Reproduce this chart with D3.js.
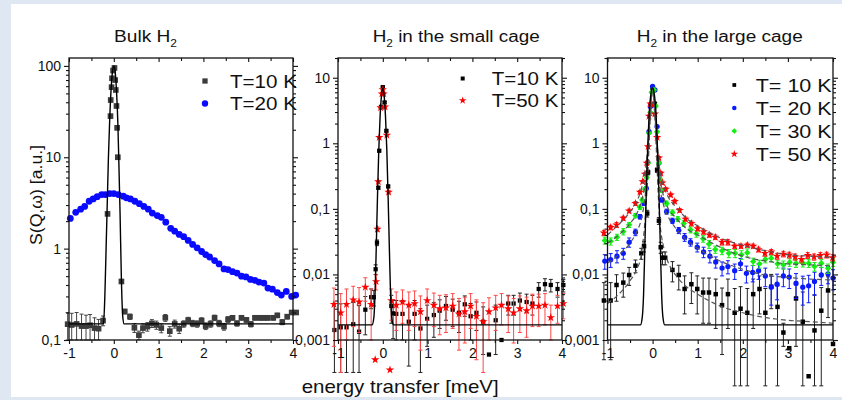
<!DOCTYPE html>
<html>
<head>
<meta charset="utf-8">
<script src="https://cdn.jsdelivr.net/npm/d3@7"></script>
<style>body{margin:0;background:#dfe8f2}</style>
</head>
<body>
<script>
// energy transfer axis (meV)
const energyTicks = [-1, 0, 1, 2, 3, 4];
const energyMinor = [-0.5, 0.5, 1.5, 2.5, 3.5];

// y ticks
const bulkTicks = [0.1, 1, 10, 100];
const bulkTickLabels = ["0,1", "1", "10", "100"];
const cageTicks = [0.001, 0.01, 0.1, 1, 10];
const cageTickLabels = ["0,001", "0,01", "0,1", "1", "10"];

// ---- Bulk H2 : [energy, S, error] ----
const bulk10K = [[-1.03,0.149,0.05],[-0.94,0.146,0.05],[-0.83,0.15,0.05],[-0.72,0.142,0.05],[-0.62,0.142,0.045],
  [-0.53,0.145,0.045],[-0.43,0.135,0.04],[-0.34,0.133,0.035],[-0.24,0.163,0.02],[-0.14,2.4,0.1],
  [-0.074,28.2,1],[-0.069,42.3,1.5],[-0.05,58.5,2],[-0.04,73.2,2],[-0.016,89,3],[0.015,95,3],[0.03,70,2],
  [0.045,54.5,2],[0.06,36.4,1.5],[0.074,21,1],[0.09,10,0.5],[0.17,0.437,0.02],[0.245,0.205,0.012],
  [0.36,0.18,0.012],[0.46,0.136,0.015],[0.56,0.113,0.012],[0.65,0.135,0.015],[0.75,0.14,0.015],
  [0.85,0.152,0.015],[0.95,0.146,0.015],[1.06,0.135,0.015],[1.15,0.175,0.015],[1.25,0.125,0.015],
  [1.36,0.15,0.015],[1.46,0.133,0.015],[1.56,0.15,0.012],[1.66,0.165,0.012],[1.76,0.152,0.012],
  [1.86,0.15,0.012],[1.96,0.163,0.012],[2.05,0.142,0.012],[2.16,0.15,0.012],[2.25,0.175,0.012],
  [2.35,0.152,0.012],[2.46,0.14,0.012],[2.55,0.168,0.012],[2.65,0.175,0.01],[2.75,0.152,0.01],
  [2.85,0.175,0.01],[2.96,0.166,0.01],[3.06,0.149,0.01],[3.15,0.175,0.01],[3.26,0.175,0.01],
  [3.35,0.175,0.01],[3.44,0.175,0.01],[3.56,0.175,0.01],[3.65,0.186,0.01],[3.76,0.157,0.01],
  [3.87,0.18,0.01],[3.97,0.2,0.01],[4.07,0.2,0.01]];
const bulk20K = [[-0.97,2.14,0],[-0.85,2.5,0],[-0.74,2.7,0],[-0.65,2.9,0],[-0.55,3.3,0],[-0.46,3.5,0],
  [-0.37,3.7,0],[-0.27,3.9,0],[-0.19,3.9,0],[-0.09,4.0,0],[0,4.0,0],[0.1,3.9,0],[0.21,3.75,0],
  [0.28,3.6,0],[0.37,3.5,0],[0.47,3.3,0],[0.57,3.1,0],[0.67,2.9,0],[0.77,2.7,0],[0.86,2.45,0],
  [0.97,2.3,0],[1.06,2.2,0],[1.16,1.95,0],[1.27,1.67,0],[1.36,1.55,0],[1.46,1.43,0],[1.56,1.35,0],
  [1.66,1.23,0],[1.76,1.11,0],[1.86,1.02,0],[1.96,0.93,0],[2.05,0.86,0],[2.14,0.81,0],[2.25,0.74,0],
  [2.35,0.68,0],[2.46,0.6,0],[2.55,0.59,0],[2.65,0.56,0],[2.75,0.54,0],[2.85,0.5,0],[2.95,0.49,0],
  [3.05,0.46,0],[3.15,0.45,0],[3.24,0.43,0],[3.35,0.42,0],[3.44,0.37,0],[3.54,0.36,0],[3.65,0.33,0],
  [3.74,0.31,0],[3.85,0.34,0],[3.97,0.3,0],[4.06,0.31,0]];
const bulkFit = [[-1,0.15],[-0.23,0.15],[-0.2,0.3],[-0.17,1.1],[-0.15,2.6],[-0.12,10],[-0.09,27],[-0.06,56],
  [-0.03,86],[0,100],[0.03,86],[0.06,54],[0.09,24],[0.11,10],[0.14,2.4],[0.17,0.45],[0.2,0.18],[0.23,0.15],[4,0.15]];

// ---- small cage ----
const small10K = [[-1.08,0.00142,0.0022],[-0.94,0.00156,0.002],[-0.81,0.00156,0.002],[-0.66,0.00174,0.002],
  [-0.53,0.00134,0.002],[-0.39,0.0029,0.0017],[-0.26,0.0045,0.0015],[-0.2,0.0045,0.0012],[-0.16,0.012,0.002],
  [-0.13,0.0305,0.003],[-0.1,0.21,0.01],[-0.08,0.77,0.03],[-0.04,3.6,0.1],[0,7.2,0.2],[0.04,4.2,0.15],
  [0.08,1.55,0.05],[0.12,0.22,0.01],[0.19,0.0033,0.0015],[0.23,0.00255,0.0015],[0.3,0.0025,0.0015],
  [0.44,0.0025,0.0015],[0.58,0.0019,0.0015],[0.71,0.0025,0.0015],[0.84,0.0015,0.0015],[0.99,0.0021,0.0013],
  [1.14,0.0024,0.0013],[1.27,0.0028,0.0013],[1.41,0.0033,0.0013],[1.56,0.0029,0.0013],[1.7,0.0026,0.0013],
  [1.83,0.0035,0.0012],[1.96,0.0023,0.0013],[2.09,0.0026,0.0012],[2.24,0.0019,0.0013],[2.37,0.0006,0],
  [2.52,0.002,0.0014],[2.65,0.001,0],[2.8,0.0036,0.0012],[2.92,0.0036,0.0012],[3.06,0.004,0.0012],
  [3.21,0.0038,0.0012],[3.34,0.0036,0.0012],[3.48,0.006,0.0015],[3.62,0.0071,0.0015],[3.75,0.0069,0.0015],
  [3.9,0.006,0.0015],[4.03,0.0069,0.0015]];
const small50K = [[-1.09,0.0035,0.0027],[-0.94,0.0026,0.0025],[-0.81,0.0035,0.0025],[-0.66,0.0041,0.0025],
  [-0.53,0.0038,0.0025],[-0.39,0.0064,0.0025],[-0.26,0.0035,0.0025],[-0.17,0.0005,0],[-0.15,0.0078,0.002],
  [-0.12,0.049,0.004],[-0.1,0.26,0.01],[-0.08,1.23,0.04],[-0.05,3.5,0.1],[-0.02,5.7,0.2],[0,6.6,0.2],
  [0.02,5.7,0.2],[0.05,3.6,0.1],[0.09,1.33,0.05],[0.13,0.18,0.01],[0.16,0.00035,0],[0.19,0.004,0.002],
  [0.3,0.0034,0.002],[0.44,0.0038,0.002],[0.58,0.0034,0.002],[0.71,0.0036,0.002],[0.84,0.0027,0.002],
  [0.99,0.004,0.002],[1.14,0.0034,0.0018],[1.27,0.003,0.0018],[1.41,0.0031,0.0018],[1.56,0.0033,0.0018],
  [1.7,0.0025,0.0018],[1.83,0.0027,0.0018],[1.96,0.0033,0.0018],[2.09,0.0023,0.0018],[2.24,0.0019,0.0018],
  [2.37,0.0027,0.0017],[2.52,0.0031,0.0017],[2.65,0.0034,0.0017],[2.8,0.003,0.0017],[2.92,0.0026,0.0017],
  [3.06,0.003,0.0017],[3.21,0.0028,0.0017],[3.34,0.0033,0.0017],[3.48,0.0033,0.0017],[3.62,0.0034,0.0017],
  [3.75,0.0022,0.0012],[3.9,0.0033,0.0015],[4.03,0.0036,0.0015]];
const smallFit = [[-1,0.0017],[-0.24,0.0017],[-0.2,0.0022],[-0.17,0.006],[-0.15,0.02],[-0.12,0.14],[-0.09,0.78],
  [-0.06,2.6],[-0.03,5.3],[0,7],[0.03,5.3],[0.06,2.6],[0.09,0.78],[0.12,0.14],[0.15,0.02],[0.17,0.006],
  [0.2,0.0022],[0.24,0.0017],[4,0.0017]];

// ---- large cage ----
const large10K = [[-1.08,0.004,0.0035],[-0.93,0.004,0.0035],[-0.8,0.0069,0.003],[-0.65,0.0075,0.003],
  [-0.52,0.0098,0.003],[-0.38,0.0136,0.003],[-0.25,0.021,0.004],[-0.19,0.027,0.005],[-0.12,0.085,0.01],
  [-0.1,0.36,0.03],[-0.05,3.8,0.2],[0,7,0.3],[0.05,4,0.2],[0.1,0.39,0.03],[0.14,0.066,0.008],
  [0.18,0.026,0.005],[0.22,0.018,0.004],[0.28,0.018,0.004],[0.44,0.0117,0.004],[0.58,0.0098,0.004],
  [0.71,0.006,0.0035],[0.86,0.0071,0.0035],[0.99,0.006,0.0035],[1.12,0.0053,0.0035],[1.25,0.0053,0.0035],
  [1.4,0.005,0.0035],[1.54,0.0034,0.0028],[1.67,0.005,0.0035],[1.82,0.0026,0.0035],[1.95,0.003,0.0035],
  [2.1,0.0026,0.0035],[2.23,0.005,0.0035],[2.37,0.006,0.0035],[2.5,0.0026,0.0035],[2.63,0.0065,0.0035],
  [2.77,0.0032,0.0035],[2.9,0.0013,0.0005],[3.03,0.00075,0],[3.18,0.0043,0.0035],[3.33,0.0019,0.0035],
  [3.46,0.00028,0],[3.59,0.0014,0.0035],[3.74,0.0028,0.0035],[3.89,0.0057,0.0035],[4.0,0.00087,0]];
const large20K = [[-1.06,0.016,0.004],[-0.93,0.0168,0.004],[-0.79,0.019,0.004],[-0.65,0.021,0.004],
  [-0.52,0.031,0.005],[-0.38,0.044,0.005],[-0.28,0.076,0.006],[-0.19,0.121,0.008],[-0.14,0.206,0.01],
  [-0.11,0.51,0.02],[-0.08,1.5,0.05],[-0.05,3.65,0.1],[0,7.4,0.2],[0.05,6.5,0.2],[0.1,1.8,0.05],
  [0.14,0.5,0.02],[0.16,0.35,0.015],[0.21,0.137,0.01],[0.31,0.091,0.008],[0.44,0.066,0.006],
  [0.58,0.047,0.005],[0.71,0.037,0.005],[0.84,0.031,0.004],[0.99,0.026,0.004],[1.13,0.022,0.004],
  [1.27,0.019,0.004],[1.4,0.0155,0.003],[1.54,0.0125,0.003],[1.67,0.0132,0.003],[1.82,0.0114,0.003],
  [1.95,0.0145,0.003],[2.08,0.0104,0.003],[2.22,0.0107,0.003],[2.35,0.0114,0.003],[2.5,0.0095,0.003],
  [2.63,0.0064,0.003],[2.76,0.0071,0.003],[2.9,0.0095,0.003],[3.03,0.0091,0.003],[3.18,0.0073,0.003],
  [3.33,0.0064,0.003],[3.46,0.0067,0.003],[3.59,0.0078,0.003],[3.74,0.0098,0.003],[3.89,0.0102,0.003],
  [4.0,0.0088,0.003]];
const large30K = [[-1.06,0.033,0.004],[-0.93,0.032,0.004],[-0.79,0.037,0.004],[-0.65,0.045,0.005],
  [-0.52,0.057,0.005],[-0.38,0.079,0.006],[-0.28,0.106,0.008],[-0.23,0.137,0.01],[-0.17,0.2,0.012],
  [-0.13,0.3,0.015],[-0.1,0.5,0.02],[-0.08,1.43,0.05],[-0.05,2.95,0.1],[-0.02,6.0,0.2],[0.03,6.5,0.2],
  [0.07,3.7,0.1],[0.1,1.5,0.05],[0.14,0.5,0.02],[0.17,0.28,0.015],[0.21,0.19,0.012],[0.31,0.121,0.01],
  [0.44,0.088,0.008],[0.56,0.07,0.006],[0.69,0.06,0.006],[0.84,0.048,0.005],[0.97,0.042,0.005],
  [1.12,0.035,0.004],[1.25,0.029,0.004],[1.39,0.024,0.003],[1.54,0.023,0.003],[1.69,0.021,0.003],
  [1.83,0.021,0.003],[1.97,0.02,0.003],[2.1,0.0215,0.003],[2.23,0.0157,0.002],[2.37,0.0145,0.002],
  [2.5,0.017,0.002],[2.63,0.0177,0.002],[2.77,0.0145,0.002],[2.9,0.014,0.002],[3.04,0.0153,0.002],
  [3.18,0.0148,0.002],[3.33,0.015,0.002],[3.46,0.0148,0.002],[3.59,0.0132,0.002],[3.74,0.0148,0.002],
  [3.89,0.0124,0.002],[4.0,0.0153,0.002]];
const large50K = [[-1.08,0.043,0.004],[-0.93,0.052,0.004],[-0.8,0.057,0.005],[-0.65,0.072,0.005],
  [-0.52,0.093,0.006],[-0.38,0.121,0.008],[-0.28,0.18,0.01],[-0.22,0.26,0.012],[-0.17,0.34,0.015],
  [-0.13,0.5,0.02],[-0.1,0.89,0.04],[-0.08,2.6,0.1],[-0.05,4.0,0.15],[0,3.8,0.15],[0.05,2.8,0.1],
  [0.1,1.23,0.05],[0.14,0.6,0.03],[0.18,0.35,0.02],[0.22,0.25,0.015],[0.29,0.2,0.012],[0.4,0.163,0.01],
  [0.49,0.13,0.008],[0.6,0.095,0.006],[0.73,0.07,0.005],[0.86,0.06,0.005],[1.0,0.05,0.004],
  [1.13,0.045,0.004],[1.26,0.04,0.003],[1.39,0.037,0.003],[1.54,0.031,0.003],[1.67,0.031,0.003],
  [1.82,0.027,0.002],[1.96,0.027,0.002],[2.1,0.028,0.002],[2.23,0.027,0.002],[2.35,0.024,0.002],
  [2.49,0.021,0.002],[2.63,0.022,0.002],[2.76,0.019,0.002],[2.9,0.0205,0.002],[3.03,0.0198,0.002],
  [3.16,0.0185,0.002],[3.3,0.017,0.002],[3.44,0.0195,0.002],[3.58,0.0185,0.002],[3.72,0.0195,0.002],
  [3.86,0.0198,0.002],[3.99,0.018,0.002]];
const largeFit = [[-1,0.0017],[-0.27,0.0017],[-0.23,0.0022],[-0.2,0.005],[-0.17,0.03],[-0.14,0.18],
  [-0.11,0.8],[-0.08,2.5],[-0.04,5.5],[0,7],[0.04,5.5],[0.08,2.5],[0.11,0.8],[0.14,0.18],[0.17,0.03],
  [0.2,0.005],[0.23,0.0022],[0.27,0.0017],[4,0.0017]];
// dashed model curves, same energy grid for each
const dashE = [-1,-0.75,-0.5,-0.35,-0.25,-0.15,-0.1,-0.05,0,0.05,0.1,0.15,0.25,0.35,0.5,0.75,1,1.5,2,2.5,3,3.5,4];
const dash10K = [0.0036,0.005,0.008,0.012,0.02,0.1,0.4,3,7,3,0.4,0.08,0.025,0.015,0.01,0.0065,0.005,0.0033,0.0026,0.0022,0.002,0.0019,0.0018];
const dash20K = [0.015,0.02,0.03,0.045,0.07,0.2,0.6,3,7,3,0.6,0.25,0.11,0.075,0.052,0.034,0.025,0.016,0.012,0.0098,0.009,0.0085,0.0082];
const dash30K = [0.03,0.04,0.06,0.085,0.13,0.3,0.8,3,6,3,0.8,0.35,0.15,0.1,0.075,0.05,0.04,0.026,0.019,0.016,0.0145,0.014,0.0135];
const dash50K = [0.04,0.058,0.09,0.13,0.2,0.45,1.0,2.8,4.2,2.8,1.0,0.45,0.22,0.15,0.11,0.072,0.055,0.036,0.028,0.023,0.02,0.019,0.018];

// ---- drawing ----
const FONT = "'Liberation Sans', Arial, sans-serif";
const TOP = 58, BOTTOM = 340;

const svg = d3.select("body").append("svg").attr("width", 842).attr("height", 400);
svg.append("rect").attr("width", 842).attr("height", 400).attr("fill", "#dfe8f2");
svg.append("rect").attr("x", 11).attr("y", 4).attr("width", 831).attr("height", 393).attr("fill", "#fff");

function logMinors(dom) {
    const out = [];
    for (let d = dom[0]; d < dom[1]; d *= 10)
        for (let k = 2; k < 10; k++) if (d * k <= dom[1]) out.push(d * k);
    return out;
}

function addAxis(g, axis, tr) {
    const a = g.append("g").attr("transform", tr).call(axis);
    a.select(".domain").remove();
    a.selectAll("line").attr("stroke", "#111").attr("stroke-width", 1.1);
    a.selectAll("text").attr("font-family", FONT).attr("font-size", 14).attr("fill", "#111");
    return a;
}

function drawSeries(g, x, y, s, floor) {
    const sg = g.append("g");
    const withErr = s.data.filter(d => d[2] > 0);
    const lo = d => y(Math.max(d[1] - d[2], floor));
    const hi = d => y(d[1] + d[2]);
    sg.selectAll("line.bar").data(withErr).join("line").attr("class", "bar")
        .attr("x1", d => x(d[0])).attr("x2", d => x(d[0]))
        .attr("y1", hi).attr("y2", lo);
    sg.selectAll("line.ct").data(withErr).join("line").attr("class", "ct")
        .attr("x1", d => x(d[0]) - 2).attr("x2", d => x(d[0]) + 2).attr("y1", hi).attr("y2", hi);
    sg.selectAll("line.cb").data(withErr).join("line").attr("class", "cb")
        .attr("x1", d => x(d[0]) - 2).attr("x2", d => x(d[0]) + 2).attr("y1", lo).attr("y2", lo);
    sg.selectAll("line").attr("stroke", s.errColor).attr("stroke-width", 1);
    sg.selectAll("path").data(s.data).join("path")
        .attr("transform", d => `translate(${x(d[0])},${y(d[1])})`)
        .attr("d", d3.symbol().type(s.type).size(s.size))
        .attr("fill", s.color);
}

function drawPanel(p) {
    const x = d3.scaleLinear().domain([-1, 4]).range([p.left, p.right]);
    const y = d3.scaleLog().domain(p.yDomain).range([BOTTOM, TOP]);
    const g = svg.append("g");
    const minors = logMinors(p.yDomain);

    p.series.forEach(s => drawSeries(g, x, y, s, p.floor));

    const line = d3.line().x(d => x(d[0])).y(d => y(d[1])).curve(d3.curveMonotoneX);
    p.lines.forEach(l => {
        g.append("path").attr("d", line(l.pts)).attr("fill", "none")
            .attr("stroke", l.color).attr("stroke-width", l.width)
            .attr("stroke-dasharray", l.dash || null);
    });

    g.append("rect").attr("x", p.left).attr("y", TOP)
        .attr("width", p.right - p.left).attr("height", BOTTOM - TOP)
        .attr("fill", "none").attr("stroke", "#111").attr("stroke-width", 1.3);

    addAxis(g, d3.axisBottom(x).tickValues(energyTicks).tickSize(4).tickPadding(4).tickFormat(d => String(d)), `translate(0,${BOTTOM})`);
    addAxis(g, d3.axisBottom(x).tickValues(energyMinor).tickSize(3).tickFormat(""), `translate(0,${BOTTOM})`);
    addAxis(g, d3.axisTop(x).tickValues(energyTicks).tickSize(-4).tickFormat(""), `translate(0,${TOP})`);
    addAxis(g, d3.axisTop(x).tickValues(energyMinor).tickSize(-3).tickFormat(""), `translate(0,${TOP})`);
    addAxis(g, d3.axisLeft(y).tickValues(p.yTicks).tickSize(5).tickPadding(3).tickFormat((d, i) => p.yLabels[i]), `translate(${p.left},0)`);
    addAxis(g, d3.axisLeft(y).tickValues(minors).tickSize(3).tickFormat(""), `translate(${p.left},0)`);
    addAxis(g, d3.axisRight(y).tickValues(p.yTicks).tickSize(5).tickFormat(""), `translate(${p.right},0)`);
    addAxis(g, d3.axisRight(y).tickValues(minors).tickSize(3).tickFormat(""), `translate(${p.right},0)`);

    // title with subscript 2
    const t = svg.append("text").attr("x", p.titleX).attr("y", 42)
        .attr("font-family", FONT).attr("font-size", 16).attr("fill", "#111")
        .attr("textLength", p.titleW).attr("lengthAdjust", "spacingAndGlyphs");
    t.append("tspan").text(p.title[0]);
    t.append("tspan").attr("font-size", 10).attr("dy", 5).text("2");
    if (p.title[1]) t.append("tspan").attr("dy", -5).text(p.title[1]);

    // legend
    p.series.forEach((s, i) => {
        const ly = p.legY + i * p.legStep;
        svg.append("path").attr("transform", `translate(${p.legMarkX},${ly})`)
            .attr("d", d3.symbol().type(s.type).size(s.legSize)).attr("fill", s.color);
        svg.append("text").attr("x", p.legTextX).attr("y", ly + 6.5)
            .attr("font-family", FONT).attr("font-size", 18).attr("fill", "#111")
            .attr("textLength", p.legW).attr("lengthAdjust", "spacingAndGlyphs")
            .text(s.label);
    });
}

drawPanel({
    left: 69, right: 293, yDomain: [0.1, 122], yTicks: bulkTicks, yLabels: bulkTickLabels, floor: 0.1,
    title: ["Bulk H", ""], titleX: 114, titleW: 63,
    legMarkX: 205, legTextX: 230, legY: 81, legStep: 22.5, legW: 67,
    series: [
        {data: bulk20K, type: d3.symbolCircle, size: 36, legSize: 32, color: "#0a0aff", errColor: "#0a0aff", label: "T=20 K"},
        {data: bulk10K, type: d3.symbolSquare, size: 32, legSize: 28, color: "#3c3c3c", errColor: "#444", label: "T=10 K"}
    ].reverse(),
    lines: [{pts: bulkFit, color: "#000", width: 1.4}]
});

drawPanel({
    left: 338, right: 562, yDomain: [0.001, 20], yTicks: cageTicks, yLabels: cageTickLabels, floor: 0.00032,
    title: ["H", " in the small cage"], titleX: 372.7, titleW: 167,
    legMarkX: 462.7, legTextX: 491.7, legY: 78.5, legStep: 22, legW: 66.7,
    series: [
        {data: small10K, type: d3.symbolSquare, size: 18, legSize: 16, color: "#000", errColor: "#222", label: "T=10 K"},
        {data: small50K, type: d3.symbolStar, size: 22, legSize: 18, color: "#ff0000", errColor: "#ff4848", label: "T=50 K"}
    ],
    lines: [{pts: smallFit, color: "#000", width: 1.4}]
});

const dashPts = vals => dashE.map((e, i) => [e, vals[i]]);
drawPanel({
    left: 607.5, right: 833, yDomain: [0.001, 20], yTicks: cageTicks, yLabels: cageTickLabels, floor: 0.0002,
    title: ["H", " in the large cage"], titleX: 636.7, titleW: 166,
    legMarkX: 734.3, legTextX: 755.7, legY: 85, legStep: 23, legW: 76,
    series: [
        {data: large10K, type: d3.symbolSquare, size: 20, legSize: 14, color: "#000", errColor: "#222", label: "T= 10 K"},
        {data: large20K, type: d3.symbolCircle, size: 22, legSize: 16, color: "#0a1aff", errColor: "#0a1aff", label: "T= 20 K"},
        {data: large30K, type: d3.symbolDiamond2, size: 26, legSize: 20, color: "#11ee11", errColor: "#11ee11", label: "T= 30 K"},
        {data: large50K, type: d3.symbolStar, size: 22, legSize: 18, color: "#ff0000", errColor: "#ff2020", label: "T= 50 K"}
    ],
    lines: [
        {pts: dashPts(dash10K), color: "#555", width: 1.2, dash: "5,3"},
        {pts: dashPts(dash20K), color: "#555", width: 1.2, dash: "5,3"},
        {pts: dashPts(dash30K), color: "#555", width: 1.2, dash: "5,3"},
        {pts: dashPts(dash50K), color: "#555", width: 1.2, dash: "5,3"},
        {pts: largeFit, color: "#000", width: 1.4}
    ]
});

// axis titles
svg.append("text").attr("transform", "translate(42,195) rotate(-90)")
    .attr("text-anchor", "middle").attr("font-family", FONT).attr("font-size", 16).attr("fill", "#111")
    .attr("textLength", 100).attr("lengthAdjust", "spacingAndGlyphs")
    .text("S(Q,ω) [a.u.]");
svg.append("text").attr("x", 301.7).attr("y", 393)
    .attr("font-family", FONT).attr("font-size", 19).attr("fill", "#111")
    .attr("textLength", 197).attr("lengthAdjust", "spacingAndGlyphs")
    .text("energy transfer [meV]");
</script>
</body>
</html>
